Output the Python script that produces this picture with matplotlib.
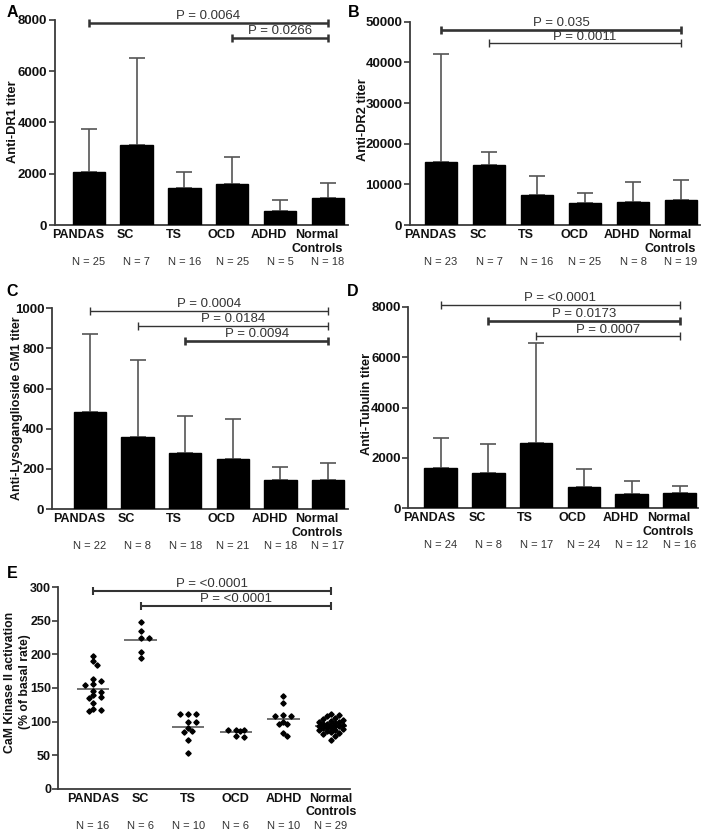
import numpy as np
import matplotlib
matplotlib.use('Agg')
import matplotlib.pyplot as plt
import matplotlib.transforms as mtransforms

plt.rcParams['font.family'] = ['Liberation Sans', 'DejaVu Sans']

# ---------------- data ----------------
categories = ['PANDAS', 'SC', 'TS', 'OCD', 'ADHD', 'Normal\nControls']

# Panel A: Anti-DR1 titer
dr1_mean = [2060, 3120, 1440, 1615, 550, 1055]
dr1_err = [1685, 3405, 620, 1020, 430, 575]
dr1_n = [25, 7, 16, 25, 5, 18]
dr1_yticks = [0, 2000, 4000, 6000, 8000]
dr1_pvals = [(0, 5, 7880, 'P = 0.0064', 1.8), (3, 5, 7290, 'P = 0.0266', 1.8)]

# Panel B: Anti-DR2 titer
dr2_mean = [15400, 14750, 7380, 5400, 5740, 6150]
dr2_err = [26650, 3120, 4750, 2550, 4910, 4920]
dr2_n = [23, 7, 16, 25, 8, 19]
dr2_yticks = [0, 10000, 20000, 30000, 40000, 50000]
dr2_pvals = [(0, 5, 48000, 'P = 0.035', 1.9), (1, 5, 44700, 'P = 0.0011', 1.0)]

# Panel C: Anti-Lysoganglioside GM1 titer
gm1_mean = [483, 360, 279, 249, 145, 145]
gm1_err = [387, 381, 184, 201, 64, 83]
gm1_n = [22, 8, 18, 21, 18, 17]
gm1_yticks = [0, 200, 400, 600, 800, 1000]
gm1_pvals = [(0, 5, 987, 'P = 0.0004', 1.0), (1, 5, 914, 'P = 0.0184', 1.0),
             (2, 5, 839, 'P = 0.0094', 1.9)]

# Panel D: Anti-Tubulin titer
tub_mean = [1614, 1389, 2593, 833, 556, 595]
tub_err = [1190, 1151, 3968, 715, 515, 305]
tub_n = [24, 8, 17, 24, 12, 16]
tub_yticks = [0, 2000, 4000, 6000, 8000]
tub_pvals = [(0, 5, 8066, 'P = <0.0001', 1.0), (1, 5, 7444, 'P = 0.0173', 1.9),
             (2, 5, 6825, 'P = 0.0007', 1.0)]

# Panel E: CaM Kinase II activation (individual values)
cam_pandas = [198, 190, 184, 163, 160, 156, 154, 146, 144, 139, 136, 135, 128, 119, 117, 115]
cam_sc = [249, 235, 224, 224, 203, 194]
cam_ts = [111, 111, 111, 100, 99, 91, 86, 84, 72, 53]
cam_ocd = [87, 87, 87, 86, 79, 77]
cam_adhd = [138, 127, 110, 108, 108, 100, 96, 96, 83, 78]
cam_nc = [112, 110, 108, 106, 104, 103, 101, 100, 99, 98, 97, 96, 95, 95, 94,
          93, 93, 92, 91, 90, 89, 88, 87, 86, 84, 83, 81, 79, 72]
cam_groups = [cam_pandas, cam_sc, cam_ts, cam_ocd, cam_adhd, cam_nc]
cam_n = [16, 6, 10, 6, 10, 29]
cam_yticks = [0, 50, 100, 150, 200, 250, 300]
cam_pvals = [(0, 5, 295, 'P = <0.0001', 1.5), (1, 5, 272.6, 'P = <0.0001', 1.5)]

# ---------------- layout ----------------
W, H = 709, 832
fig = plt.figure(figsize=(W / 100, H / 100), dpi=100)

SPINE = '#3a3a3a'
TXT = '#111111'
PX2PT = 0.72


def make_axes(left, top, right, bottom, c0, sp, ymax, ysize=9.5, ypad=1.5):
    ax = fig.add_axes([left / W, 1 - bottom / H, (right - left) / W, (bottom - top) / H])
    ax.set_xlim((left - c0) / sp, (right - c0) / sp)
    ax.set_ylim(0, ymax)
    for s in ['top', 'right']:
        ax.spines[s].set_visible(False)
    for s in ['left', 'bottom']:
        ax.spines[s].set_color(SPINE)
        ax.spines[s].set_linewidth(1.3)
    ax.tick_params(axis='y', direction='out', length=4, width=1.2,
                   color=SPINE, labelsize=ysize, pad=ypad, labelcolor=TXT)
    ax.tick_params(axis='x', length=0, pad=3, labelsize=9, labelcolor=TXT)
    return ax


def finish_axes(ax, yticks, nvals, shift_px):
    x = np.arange(len(categories))
    ax.set_yticks(yticks)
    ax.set_yticklabels([str(t) for t in yticks], fontweight='bold')
    ax.set_xticks(x)
    ax.set_xticklabels(categories, fontweight='bold', linespacing=1.15)
    if shift_px:
        off = mtransforms.ScaledTranslation(shift_px / 100, 0, fig.dpi_scale_trans)
        for lab in ax.get_xticklabels():
            lab.set_transform(lab.get_transform() + off)
    for i, n in enumerate(nvals):
        ax.annotate('N = %d' % n, xy=(i, 0), xycoords=('data', 'axes fraction'),
                    xytext=(0, -37 * PX2PT), textcoords='offset points',
                    ha='center', va='center', fontsize=8, color='#333333')


def brackets(ax, pvals):
    for (i0, i1, yv, label, lw) in pvals:
        ax.plot([i0, i1], [yv, yv], color='#333333', lw=lw, clip_on=False,
                solid_capstyle='butt')
        for xi in (i0, i1):
            ax.plot([xi], [yv], color='#333333', clip_on=False, linestyle='none',
                    marker='|', markersize=6, markeredgewidth=lw)
        ax.annotate(label, xy=((i0 + i1) / 2, yv), xycoords='data',
                    xytext=(0, 0.5), textcoords='offset points',
                    ha='center', va='bottom', fontsize=9.5, color='#333333',
                    annotation_clip=False)


def bar_panel(geom, means, errs, nvals, yticks, pvals, ylabel, ylabel_xy, ylsize=9.3):
    left, top, right, bottom, c0, sp = geom
    ax = make_axes(left, top, right, bottom, c0, sp, yticks[-1])
    x = np.arange(len(categories))
    ax.bar(x, means, width=0.68, color='black', edgecolor='black', zorder=3)
    ax.errorbar(x, means, yerr=[np.zeros(len(errs)), errs], fmt='none',
                ecolor='#555555', elinewidth=1.2, capsize=6, capthick=1.2, zorder=2)
    finish_axes(ax, yticks, nvals, -11)
    brackets(ax, pvals)
    fig.text(ylabel_xy[0] / W, 1 - ylabel_xy[1] / H, ylabel, rotation=90,
             ha='center', va='center', fontsize=ylsize, fontweight='bold', color=TXT)
    return ax


bar_panel((55, 20, 348, 225, 88.8, 47.8), dr1_mean, dr1_err, dr1_n, dr1_yticks,
          dr1_pvals, 'Anti-DR1 titer', (13, 122))
bar_panel((410, 21.7, 700, 225, 441, 48), dr2_mean, dr2_err, dr2_n, dr2_yticks,
          dr2_pvals, 'Anti-DR2 titer', (363, 120))
bar_panel((52, 308.3, 348, 509, 90, 47.6), gm1_mean, gm1_err, gm1_n, gm1_yticks,
          gm1_pvals, 'Anti-Lysoganglioside GM1 titer', (17, 408), ylsize=8.9)
bar_panel((408.3, 306.7, 698, 508.3, 440.5, 47.8), tub_mean, tub_err, tub_n, tub_yticks,
          tub_pvals, 'Anti-Tubulin titer', (367, 404))

# ---------------- panel E ----------------
axE = make_axes(58, 587.3, 350, 788.7, 93, 47.6, cam_yticks[-1], ysize=9, ypad=1.0)
px_unit = (788.7 - 587.3) / cam_yticks[-1]
px_cat = 47.6


def swarm(values, step=4.0, mind=4.6, maxk=3):
    placed, offs = [], []
    cands = [0]
    for k in range(1, maxk + 1):
        cands += [k, -k]
    for v in values:
        yy = v * px_unit
        best, best_d = 0.0, -1.0
        for c in cands:
            xx = c * step
            d = min([np.hypot(xx - a, yy - b) for a, b in placed] + [1e9])
            if d >= mind:
                best = xx
                break
            if d > best_d + 0.5:
                best, best_d = xx, d
        placed.append((best, yy))
        offs.append(best / px_cat)
    return np.array(offs)


for i, vals in enumerate(cam_groups):
    offs = swarm(vals)
    axE.plot(i + offs, vals, linestyle='none', marker='D', markersize=2.7,
             color='black', clip_on=False, zorder=3)
    axE.hlines(np.mean(vals), i - 0.34, i + 0.34, color='#666666', lw=1.3, zorder=2)

finish_axes(axE, cam_yticks, cam_n, 0)
brackets(axE, cam_pvals)
fig.text(17.5 / W, 1 - 682 / H, 'CaM Kinase II activation\n(% of basal rate)', rotation=90,
         ha='center', va='center', fontsize=8.8, fontweight='bold', color=TXT,
         multialignment='center', linespacing=1.25)

# panel letters
for letter, (px, py) in zip('ABCDE', [(12, 12.5), (354, 12.5), (12, 292), (353, 292), (12, 574)]):
    fig.text(px / W, 1 - py / H, letter, ha='center', va='center',
             fontsize=11.5, fontweight='bold', color='black')

fig.savefig('out.png', dpi=100)
